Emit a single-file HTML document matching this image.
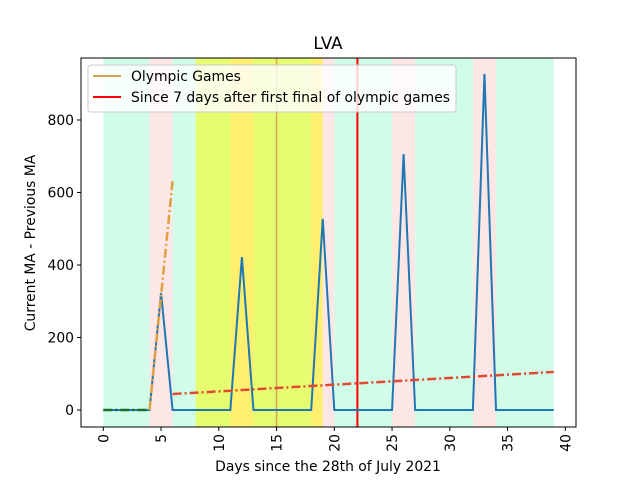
<!DOCTYPE html>
<html><head><meta charset="utf-8"><style>
body{margin:0;background:#fff}
svg{font-family:"DejaVu Sans","Liberation Sans",sans-serif}
</style></head><body>
<svg id="chart" width="640" height="480" xmlns="http://www.w3.org/2000/svg">
<rect width="640" height="480" fill="#fff"/>
<g id="spans"></g>
<g id="marks"></g>
<g id="axes"></g>
</svg>
<script>
const days = Array.from({length:40},(_,i)=>i);
const maDiff = [0,0,0,0,0,323,0,0,0,0,0,0,422,0,0,0,0,0,0,527,0,0,0,0,0,0,706,0,0,0,0,0,0,927,0,0,0,0,0,0];
const spanStarts = [0,4,6,8,11,13,18,19,20,25,27,32,34];
const spanEnds =   [4,6,8,11,13,18,19,20,25,27,32,34,39];
const spanColors = ['#d0fce8','#fde6e6','#d0fce8','#e5fd6e','#fdf06e','#e5fd6e','#fdf06e','#fde6e6','#d0fce8','#fde6e6','#d0fce8','#fde6e6','#d0fce8'];
const preX=[0,4], preY=[0,0];
const olyX=[4,6], olyY=[0,632];
const postX=[6,39], postY=[44,105];
const olympicLineDay = 15, sinceLineDay = 22;
const xTicks=[0,5,10,15,20,25,30,35,40];
const yTicks=[0,200,400,600,800];
const L=81,R=576,T=58,B=427;
const X=d=>103.3+d*11.55;
const Y=v=>410-v*0.3625;
const NS='http://www.w3.org/2000/svg';
function mk(tag,attrs,parent,text){const e=document.createElementNS(NS,tag);for(const k in attrs)e.setAttribute(k,attrs[k]);if(text!==undefined)e.textContent=text;parent.appendChild(e);return e;}
const sp=document.getElementById('spans'), mg=document.getElementById('marks'), ax=document.getElementById('axes');
spanStarts.forEach((s,i)=>{
  const r=mk('rect',{x:X(s),y:T,width:X(spanEnds[i])-X(s),height:B-T,fill:spanColors[i]},sp);
  
  
});
let l=mk('line',{x1:X(olympicLineDay),x2:X(olympicLineDay),y1:T,y2:B,stroke:'#d4a35a','stroke-width':1.5},mg);


l=mk('line',{x1:X(sinceLineDay),x2:X(sinceLineDay),y1:T,y2:B,stroke:'#ff0000','stroke-width':2},mg);


let p=mk('polyline',{points:days.map((d,i)=>X(d)+','+Y(maDiff[i])).join(' '),fill:'none',stroke:'#1f77b4','stroke-width':2},mg);


p=mk('line',{x1:X(preX[0]),y1:Y(preY[0]),x2:X(preX[1]),y2:Y(preY[1]),stroke:'#1b6b2e','stroke-width':2.5,'stroke-dasharray':'9,3,2,3'},mg);


p=mk('line',{x1:X(olyX[0]),y1:Y(olyY[0]),x2:X(olyX[1]),y2:Y(olyY[1]),stroke:'#e0a040','stroke-width':2.5,'stroke-dasharray':'9,3,2,3'},mg);


p=mk('line',{x1:X(postX[0]),y1:Y(postY[0]),x2:X(postX[1]),y2:Y(postY[1]),stroke:'#e04a30','stroke-width':2.5,'stroke-dasharray':'9,3,2,3'},mg);


let f=mk('rect',{x:L,y:T,width:R-L,height:B-T,fill:'none',stroke:'#000','stroke-width':1},ax);


xTicks.forEach(t=>{
  mk('line',{x1:X(t),x2:X(t),y1:B,y2:B+4,stroke:'#000'},ax);
  const tx=mk('text',{x:0,y:0,transform:`translate(${X(t)+5},${B+7}) rotate(-90)`,'text-anchor':'end','font-size':13.9},ax,t);
  
  
});
yTicks.forEach(t=>{
  mk('line',{x1:L-4,x2:L,y1:Y(t),y2:Y(t),stroke:'#000'},ax);
  const tx=mk('text',{x:L-7,y:Y(t)+5,'text-anchor':'end','font-size':13.9},ax,t);
  
  
});
</script>
<svg style="position:absolute;left:0;top:0" width="640" height="480" xmlns="http://www.w3.org/2000/svg" font-family="DejaVu Sans, Liberation Sans, sans-serif">
<text x="328" y="49" text-anchor="middle" font-size="16.7">LVA</text>
<text x="328" y="471" text-anchor="middle" font-size="13.9">Days since the 28th of July 2021</text>
<text transform="translate(35,243) rotate(-90)" text-anchor="middle" font-size="13.9">Current MA - Previous MA</text>
<g>
<rect x="88" y="65" width="368" height="47" rx="3" fill="#fff" fill-opacity="0.8" stroke="#ccc"/>
<line x1="93" y1="76" x2="121" y2="76" stroke="#d4a35a" stroke-width="2"/>
<text x="131" y="81" font-size="13.9">Olympic Games</text>
<line x1="93" y1="97" x2="121" y2="97" stroke="#ff0000" stroke-width="2"/>
<text x="131" y="102" font-size="13.9">Since 7 days after first final of olympic games</text>
</g>
</svg>
</body></html>
